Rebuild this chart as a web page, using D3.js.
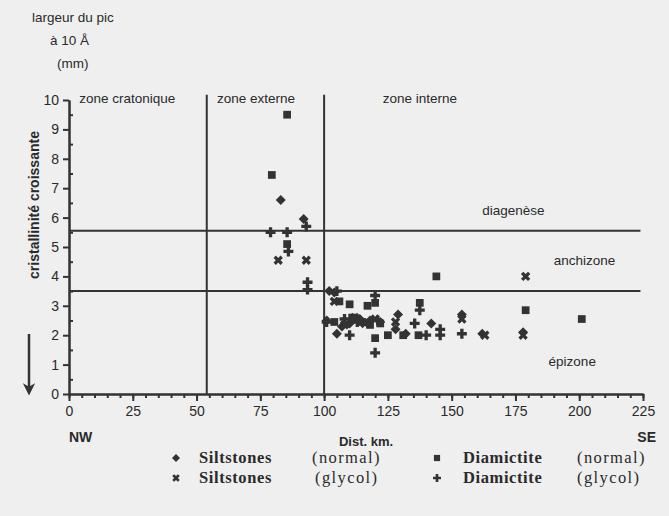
<!DOCTYPE html>
<html>
<head>
<meta charset="utf-8">
<script src="https://cdn.jsdelivr.net/npm/d3@7"></script>
<style>
  body { margin: 0; background: #efefef; }
  svg { display: block; }
  text { fill: #2a2a2a; }
</style>
</head>
<body>
<svg id="chart" width="669" height="516"></svg>
<script>
// values: [distance km, peak width mm]
const siltNormal = [
  [83, 6.6], [92, 5.95], [102, 3.5], [104, 3.45], [101, 2.5], [107, 2.3], [105, 2.05],
  [110, 2.4], [114, 2.55], [118, 2.5], [122, 2.45], [129, 2.7], [128, 2.2], [132, 2.05],
  [142, 2.4], [154, 2.7], [162, 2.05], [178, 2.1]
]
const siltGlycol = [
  [82, 4.55], [93, 4.55], [104, 3.15], [108, 2.35], [112, 2.6], [116, 2.4], [120, 2.55],
  [128, 2.45], [154, 2.55], [163, 2.0], [179, 4.0], [178, 2.0]
]
const diamNormal = [
  [85.5, 9.5], [79.5, 7.45], [85.5, 5.1], [106, 3.15], [110, 3.05], [117, 3.0], [120, 3.1],
  [104, 2.45], [111, 2.6], [115, 2.45], [118, 2.35], [122, 2.4], [120, 1.9], [125, 2.0],
  [131, 2.0], [137.5, 3.1], [137, 2.0], [144, 4.0], [179, 2.85], [201, 2.55]
]
const diamGlycol = [
  [79, 5.5], [85.5, 5.5], [93, 5.7], [86, 4.85], [93.5, 3.8], [93.5, 3.55], [105, 3.5],
  [120, 3.35], [101, 2.45], [108, 2.55], [110, 2.0], [113, 2.45], [121, 2.5], [120, 1.4],
  [135.5, 2.4], [137.5, 2.85], [140, 2.0], [145.5, 2.2], [145.5, 2.0], [154, 2.05]
]

const xTicks = d3.range(0, 226, 25)
const xMinor = d3.range(0, 226, 5)
const yTicks = d3.range(0, 11, 1)
const yMinor = d3.range(0.5, 10, 1)
const zoneBounds = [54, 100]
const levelBounds = [5.55, 3.5]

const zoneLabels = [
  { text: 'zone cratonique', x: 4, y: 9.9 },
  { text: 'zone externe', x: 58, y: 9.9 },
  { text: 'zone interne', x: 123, y: 9.9 }
]
const levelLabels = [
  { text: 'diagenèse', x: 162, y: 6.1 },
  { text: 'anchizone', x: 190, y: 4.4 },
  { text: 'épizone', x: 188, y: 0.95 }
]

const svg = d3.select('#chart')
const x = d3.scaleLinear().domain([0, 225]).range([69, 643])
const y = d3.scaleLinear().domain([0, 10]).range([394, 100])

const ink = '#333'
const sans = '"Liberation Sans", Arial, sans-serif'
const serif = '"Liberation Serif", "Times New Roman", serif'

// axes, minor ticks in their own groups
const xAt = `translate(0,${y(0)})`
const yAt = `translate(${x(0)},0)`
svg.append('g').attr('transform', xAt)
  .call(d3.axisBottom(x).tickValues(xMinor).tickSize(4).tickSizeOuter(0).tickFormat(''))
svg.append('g').attr('transform', xAt)
  .call(d3.axisBottom(x).tickValues(xTicks).tickSize(7).tickSizeOuter(0).tickPadding(5))
svg.append('g').attr('transform', yAt)
  .call(d3.axisRight(y).tickValues(yMinor).tickSize(4).tickSizeOuter(0).tickFormat(''))
svg.append('g').attr('transform', yAt)
  .call(d3.axisLeft(y).tickValues(yTicks).tickSize(6).tickSizeOuter(0).tickPadding(4))
svg.selectAll('.domain, .tick line').attr('stroke', ink).attr('stroke-width', 2)
svg.selectAll('.tick text').attr('font-family', sans).attr('font-size', 14).attr('fill', '#2a2a2a')

// zone boundaries
svg.append('g').selectAll('line').data(zoneBounds).join('line')
  .attr('x1', d => x(d)).attr('x2', d => x(d))
  .attr('y1', y(0)).attr('y2', y(10.18))
  .attr('stroke', ink).attr('stroke-width', 2)
svg.append('g').selectAll('line').data(levelBounds).join('line')
  .attr('x1', x(0)).attr('x2', x(224))
  .attr('y1', d => y(d)).attr('y2', d => y(d))
  .attr('stroke', ink).attr('stroke-width', 2)

svg.append('g').selectAll('text').data(zoneLabels.concat(levelLabels)).join('text')
  .attr('x', d => x(d.x)).attr('y', d => y(d.y))
  .attr('font-family', sans).attr('font-size', 13.5)
  .text(d => d.text)

// markers
const diamond = d3.symbol(d3.symbolSquare, 50)
const square = d3.symbol(d3.symbolSquare, 60)
const cross = d3.symbol(d3.symbolCross, 55)
const series = [
  { data: siltNormal, path: diamond(), rot: 45 },
  { data: diamNormal, path: square(), rot: 0 },
  { data: siltGlycol, path: cross(), rot: 45 },
  { data: diamGlycol, path: cross(), rot: 0 }
]
series.forEach(s => {
  svg.append('g').selectAll('path').data(s.data).join('path')
    .attr('d', s.path)
    .attr('transform', d => `translate(${x(d[0])},${y(d[1])}) rotate(${s.rot})`)
    .attr('fill', ink)
})

// titles
const head = svg.append('g').attr('font-family', sans).attr('font-size', 13.5)
head.append('text').attr('x', 32).attr('y', 22).text('largeur du pic')
head.append('text').attr('x', 50).attr('y', 45).text('à 10 Å')
head.append('text').attr('x', 57).attr('y', 68).text('(mm)')

svg.append('text')
  .attr('transform', 'translate(39,205) rotate(-90)')
  .attr('text-anchor', 'middle')
  .attr('font-family', sans).attr('font-size', 14).attr('font-weight', 'bold')
  .text('cristallinité croissante')

svg.append('defs').append('marker')
  .attr('id', 'head').attr('viewBox', '0 0 10 10')
  .attr('refX', 4).attr('refY', 5).attr('markerWidth', 5).attr('markerHeight', 5)
  .attr('orient', 'auto')
  .append('path').attr('d', 'M0,0 L10,5 L0,10 L3,5 Z').attr('fill', ink)
svg.append('line')
  .attr('x1', 29).attr('x2', 29).attr('y1', 334).attr('y2', 388)
  .attr('stroke', ink).attr('stroke-width', 2.5)
  .attr('marker-end', 'url(#head)')

const foot = svg.append('g').attr('font-family', sans).attr('font-weight', 'bold').attr('font-size', 14)
foot.append('text').attr('x', 69).attr('y', 442).text('NW')
foot.append('text').attr('x', 656).attr('y', 442).attr('text-anchor', 'end').text('SE')
foot.append('text').attr('x', 366).attr('y', 446).attr('text-anchor', 'middle').attr('font-size', 13).text('Dist. km.')

// legend
const legendRows = [
  { path: diamond(), rot: 45, name: 'Siltstones', note: '(normal)', mx: 176, tx: 199, nx: 312, row: 0 },
  { path: cross(), rot: 45, name: 'Siltstones', note: '(glycol)', mx: 176, tx: 199, nx: 315, row: 1 },
  { path: square(), rot: 0, name: 'Diamictite', note: '(normal)', mx: 437, tx: 463, nx: 577, row: 0 },
  { path: cross(), rot: 0, name: 'Diamictite', note: '(glycol)', mx: 437, tx: 463, nx: 577, row: 1 }
]
const lg = svg.append('g').selectAll('g').data(legendRows).join('g')
  .attr('transform', d => `translate(0,${463 + d.row * 20})`)
lg.append('path').attr('d', d => d.path)
  .attr('transform', d => `translate(${d.mx},-5) rotate(${d.rot}) scale(0.8)`)
  .attr('fill', ink)
lg.append('text').attr('x', d => d.tx)
  .attr('font-family', serif).attr('font-weight', 'bold').attr('font-size', 16.5)
  .attr('letter-spacing', 0.6)
  .text(d => d.name)
lg.append('text').attr('x', d => d.nx)
  .attr('font-family', serif).attr('font-size', 16.5).attr('letter-spacing', 1.4)
  .text(d => d.note)
</script>
</body>
</html>
